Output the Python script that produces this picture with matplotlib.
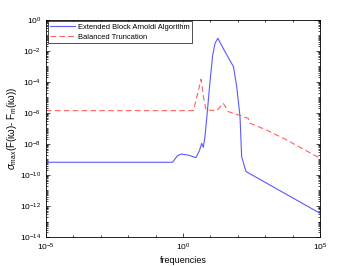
import numpy as np
import matplotlib
matplotlib.use("Agg")
import matplotlib.pyplot as plt
from matplotlib.ticker import LogLocator, FixedLocator, NullFormatter

# значения (log10 частоты, log10 ошибки)
eba_logf = [-5, -0.38, -0.2, -0.05, 0.2, 0.47, 0.60, 0.68, 0.74, 0.80, 0.86, 0.99,
            1.08, 1.17, 1.27, 1.53, 1.84, 1.96, 2.08, 2.14, 2.30, 5.0]
eba_logerr = [-9.18, -9.18, -8.75, -8.65, -8.72, -8.88, -8.43, -7.96, -8.21, -7.53, -6.45, -3.87,
              -2.3, -1.5, -1.18, -2.04, -3.01, -4.30, -6.24, -8.82, -9.78, -12.47]

bt_logf = [-5, 0.38, 0.5, 0.66, 0.75, 0.84, 1.23, 1.47, 1.65, 2.02, 2.38, 2.45, 3.05, 3.78, 5.0]
bt_logerr = [-5.85, -5.85, -5.0, -3.83, -5.0, -5.8, -5.85, -5.38, -5.91, -6.13, -6.35, -6.67,
             -7.1, -7.74, -8.92]

labels = ['Extended Block Arnoldi Algorithm', 'Balanced Truncation']

plt.rcParams['font.family'] = ['Liberation Sans', 'DejaVu Sans']
plt.rcParams['mathtext.fontset'] = 'custom'
plt.rcParams['mathtext.rm'] = 'Liberation Sans'
plt.rcParams['mathtext.it'] = 'Liberation Sans:italic'
plt.rcParams['font.size'] = 6

fig = plt.figure(figsize=(3.54, 2.66), dpi=100)
ax = fig.add_axes([0.130, 0.109, 0.774, 0.816])

ax.loglog(10.0 ** np.array(eba_logf), 10.0 ** np.array(eba_logerr),
          color='#5a5aff', linewidth=0.8, label=labels[0])
ax.loglog(10.0 ** np.array(bt_logf), 10.0 ** np.array(bt_logerr),
          color='#ff6060', linewidth=0.8, linestyle=(0, (5, 3)), label=labels[1])

ax.set_xlim(1e-5, 1e5)
ax.set_ylim(1e-14, 1)

# метки оси x
ax.xaxis.set_major_locator(FixedLocator([1e-5, 1e0, 1e5]))
ax.xaxis.set_minor_locator(FixedLocator([10.0 ** k for k in range(-5, 6)]))
ax.xaxis.set_minor_formatter(NullFormatter())

# метки оси y
ax.yaxis.set_major_locator(FixedLocator([10.0 ** k for k in range(-14, 1, 2)]))
ax.yaxis.set_minor_locator(LogLocator(base=10, subs=np.arange(1, 10), numticks=30))
ax.yaxis.set_minor_formatter(NullFormatter())

ax.tick_params(which='both', direction='in', top=True, right=True, width=0.5, labelsize=6)
ax.tick_params(which='major', length=3)
ax.tick_params(which='minor', length=1.5)
for s in ax.spines.values():
    s.set_linewidth(0.6)

ax.set_xlabel('frequencies', fontsize=6.5, labelpad=2)
ax.set_ylabel(r'$\sigma_{\rm max}(\rm F(i\omega)$- $\rm F_m(i\omega))$', fontsize=7, labelpad=1)

leg = ax.legend(loc='upper left', fontsize=5.4, fancybox=False, edgecolor='black',
                borderaxespad=0.2, handlelength=3.4, borderpad=0.3, labelspacing=0.35,
                handletextpad=0.4)
leg.get_frame().set_linewidth(0.6)

plt.savefig('out.png', dpi=100)
